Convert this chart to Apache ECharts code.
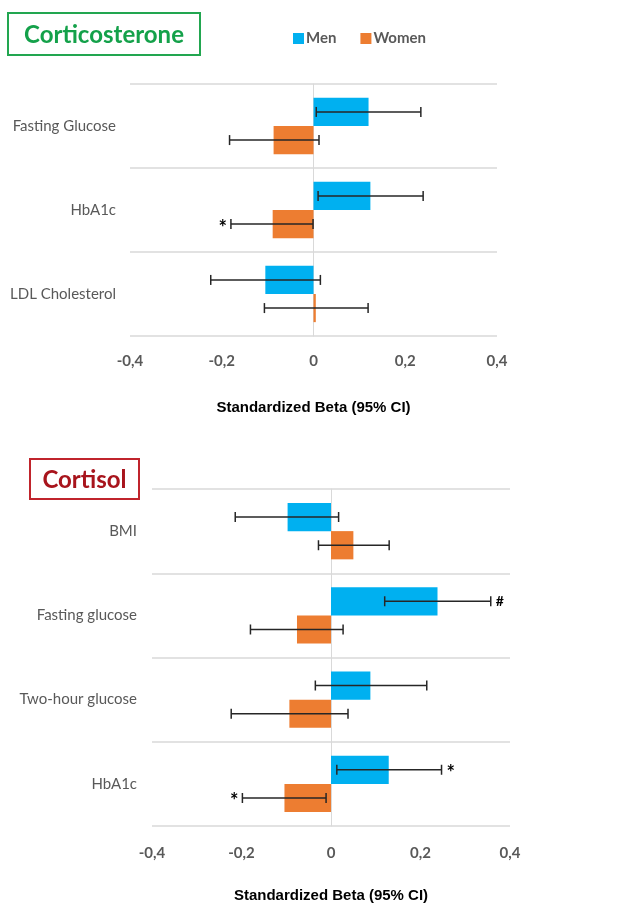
<!DOCTYPE html>
<html>
<head>
<meta charset="utf-8">
<script src="https://cdn.jsdelivr.net/npm/echarts@6/dist/echarts.min.js"></script>
<style>html,body{margin:0;padding:0;background:#fff}#c{width:639px;height:904px}</style>
</head>
<body>
<div id="c"></div>
<script>
// ---- Data ----
const topCategories = ['Fasting Glucose', 'HbA1c', 'LDL Cholesterol'];
const topMen = [0.12, 0.124, -0.105];
const topMenLow = [0.006, 0.01, -0.224];
const topMenHigh = [0.234, 0.239, 0.015];
const topWomen = [-0.087, -0.089, 0.005];
const topWomenLow = [-0.183, -0.18, -0.107];
const topWomenHigh = [0.012, -0.001, 0.119];
const topMenSig = ['', '', ''];
const topWomenSig = ['', '*', ''];

const botCategories = ['BMI', 'Fasting glucose', 'Two-hour glucose', 'HbA1c'];
const botMen = [-0.097, 0.238, 0.088, 0.129];
const botMenLow = [-0.214, 0.12, -0.035, 0.013];
const botMenHigh = [0.017, 0.357, 0.214, 0.247];
const botWomen = [0.05, -0.076, -0.093, -0.104];
const botWomenLow = [-0.028, -0.18, -0.223, -0.198];
const botWomenHigh = [0.13, 0.027, 0.038, -0.011];
const botMenSig = ['', '#', '', '*'];
const botWomenSig = ['', '', '', '*'];

const xTicks = { min: -0.4, max: 0.4, interval: 0.2 };
const seriesNames = ['Men', 'Women'];
const axisTitle = 'Standardized Beta (95% CI)';

// ---- Styles ----
const BLUE = '#00b0f0', ORANGE = '#ed7d31';
const GRAY = '#595959', GRID = '#d9d9d9';
const GAP = 0.33;
const FONT = 'Lato, "Open Sans", sans-serif';
const NARROW = '"Liberation Sans", Arial, sans-serif';

function errSeries(idx, lows, highs, sigs, sign) {
  return {
    type: 'custom', xAxisIndex: idx, yAxisIndex: idx, z: 10, silent: true,
    data: lows.map((l, i) => [l, highs[i], i]),
    encode: { x: [0, 1], y: 2 },
    renderItem: function (params, api) {
      const lo = api.coord([api.value(0), api.value(2)]);
      const hi = api.coord([api.value(1), api.value(2)]);
      const band = api.size([0, 1])[1];
      const off = sign * band * (1 - GAP) / 4;
      const y = lo[1] + off;
      const h = 5;
      const st = { stroke: '#262626', lineWidth: 1.5 };
      const ch = [
        { type: 'line', shape: { x1: lo[0], y1: y, x2: hi[0], y2: y }, style: st },
        { type: 'line', shape: { x1: lo[0], y1: y - h, x2: lo[0], y2: y + h }, style: st },
        { type: 'line', shape: { x1: hi[0], y1: y - h, x2: hi[0], y2: y + h }, style: st }
      ];
      const s = sigs[params.dataIndex];
      if (s) {
        const right = sign < 0;
        ch.push({
          type: 'text',
          style: {
            text: s, x: right ? hi[0] + 5 : lo[0] - 4, y: y + (s === '*' ? 4 : 0),
            align: right ? 'left' : 'right', verticalAlign: 'middle',
            fill: '#000', font: 'bold ' + (s === '*' ? 20 : 14) + 'px ' + FONT
          }
        });
      }
      return { type: 'group', children: ch };
    }
  };
}

function barSeries(idx, name, data, color) {
  return {
    type: 'bar', name: name, xAxisIndex: idx, yAxisIndex: idx, data: data,
    barGap: '0%', barCategoryGap: (GAP * 100) + '%',
    itemStyle: { color: color }, silent: true
  };
}

const xAxisBase = (gridIndex, margin, nameGap) => ({
  type: 'value', gridIndex: gridIndex,
  min: xTicks.min, max: xTicks.max, interval: xTicks.interval,
  splitLine: { show: false }, axisLine: { show: false }, axisTick: { show: false },
  axisLabel: {
    margin: margin, color: GRAY, fontSize: 15, fontWeight: 'bold', fontFamily: FONT,
    formatter: v => String(+v.toFixed(1)).replace('.', ',')
  },
  name: axisTitle, nameLocation: 'middle', nameGap: nameGap,
  nameTextStyle: { color: '#000', fontSize: 15, fontWeight: 'bold', fontFamily: NARROW }
});

const yAxisBase = (gridIndex, cats, margin) => ({
  type: 'category', gridIndex: gridIndex, data: cats, inverse: true,
  axisTick: { show: false },
  axisLine: { show: true, onZero: true, lineStyle: { color: GRID, width: 1 } },
  splitLine: { show: true, lineStyle: { color: GRID, width: 1.5 } },
  axisLabel: { color: GRAY, fontSize: 15, fontFamily: FONT, margin: margin }
});

const chart = echarts.init(document.getElementById('c'), null, { renderer: 'canvas' });
chart.setOption({
  animation: false,
  backgroundColor: '#fff',
  legend: {
    data: seriesNames, left: 288, top: 26, icon: 'rect', itemWidth: 11, itemHeight: 11,
    itemGap: 24,
    textStyle: { color: GRAY, fontSize: 15, fontWeight: 'bold', fontFamily: FONT, padding: [0, 0, 0, -3] }
  },
  color: [BLUE, ORANGE],
  grid: [
    { left: 130, right: 142, top: 84, height: 252 },
    { left: 152, right: 129, top: 489, height: 341 }
  ],
  xAxis: [xAxisBase(0, 18, 64), xAxisBase(1, 20, 62)],
  yAxis: [yAxisBase(0, topCategories, 14), yAxisBase(1, botCategories, 15)],
  series: [
    barSeries(0, 'Men', topMen, BLUE),
    barSeries(0, 'Women', topWomen, ORANGE),
    errSeries(0, topMenLow, topMenHigh, topMenSig, -1),
    errSeries(0, topWomenLow, topWomenHigh, topWomenSig, 1),
    barSeries(1, 'Men', botMen, BLUE),
    barSeries(1, 'Women', botWomen, ORANGE),
    errSeries(1, botMenLow, botMenHigh, botMenSig, -1),
    errSeries(1, botWomenLow, botWomenHigh, botWomenSig, 1)
  ],
  graphic: [
    {
      type: 'group', left: 7, top: 12,
      children: [
        { type: 'rect', shape: { x: 0, y: 0, width: 192, height: 42 }, style: { fill: '#fff', stroke: '#22a650', lineWidth: 2 } },
        { type: 'text', style: { text: 'Corticosterone', x: 96, y: 22, align: 'center', verticalAlign: 'middle', fill: '#14a14a', font: 'bold 24px ' + FONT } }
      ]
    },
    {
      type: 'group', left: 29, top: 458,
      children: [
        { type: 'rect', shape: { x: 0, y: 0, width: 109, height: 40 }, style: { fill: '#fff', stroke: '#c0242c', lineWidth: 2 } },
        { type: 'text', style: { text: 'Cortisol', x: 54.5, y: 21, align: 'center', verticalAlign: 'middle', fill: '#a8141c', font: 'bold 24px ' + FONT } }
      ]
    }
  ]
});
</script>
</body>
</html>
